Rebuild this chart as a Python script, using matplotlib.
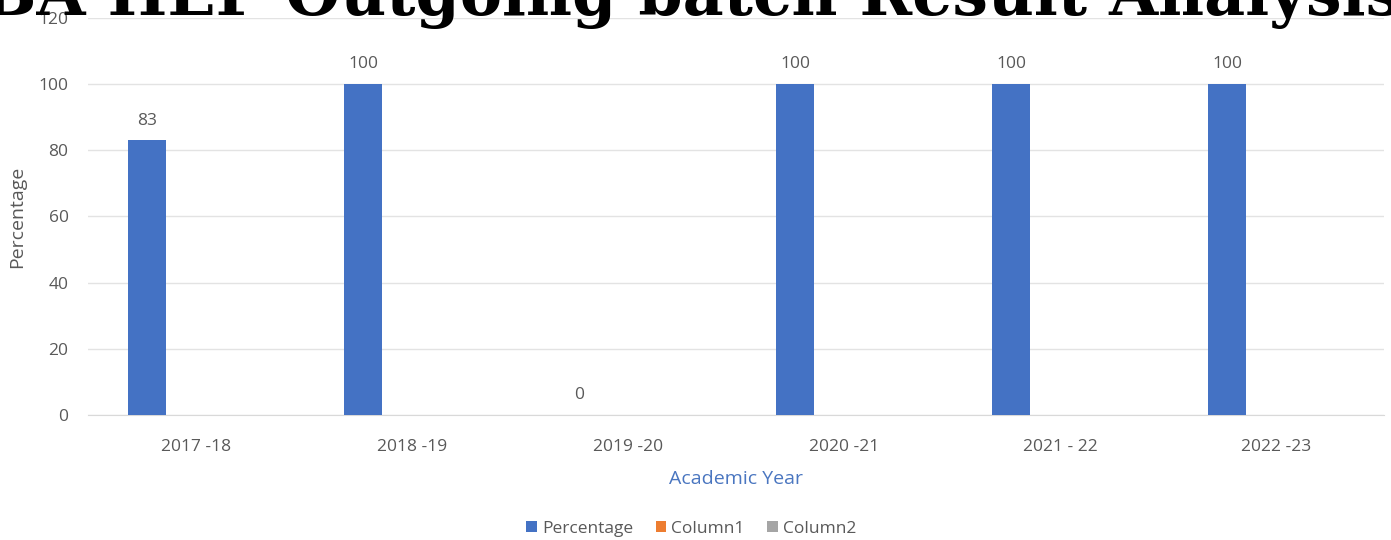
import numpy as np
import matplotlib
matplotlib.use('Agg')
import matplotlib.pyplot as plt

# data
years = ['2017 -18', '2018 -19', '2019 -20', '2020 -21', '2021 - 22', '2022 -23']
percentage = [83, 100, 0, 100, 100, 100]
column1 = [0, 0, 0, 0, 0, 0]
column2 = [0, 0, 0, 0, 0, 0]
yticks = [0, 20, 40, 60, 80, 100, 120]

plt.rcParams['font.family'] = ['Open Sans', 'DejaVu Sans']
gray = '#595959'

fig = plt.figure(figsize=(13.91, 5.40), dpi=100)
ax = fig.add_axes([0.0633, 0.2315, 0.9317, 0.7352])

x = np.arange(len(years))
w = 0.176
off = 0.227
bars = ax.bar(x - off, percentage, w, color='#4472C4', label='Percentage', zorder=3)
ax.bar(x, column1, w, color='#ED7D31', label='Column1', zorder=3, linewidth=0)
ax.bar(x + off, column2, w, color='#A5A5A5', label='Column2', zorder=3, linewidth=0)

for b, v in zip(bars, percentage):
    ax.text(b.get_x() + b.get_width() / 2, v + 6, str(v), ha='center', va='center',
            fontsize=12.5, color=gray)

ax.set_xlim(-0.5, len(years) - 0.5)
ax.set_ylim(0, 120)
ax.set_yticks(yticks)
ax.set_xticks(x)
ax.set_xticklabels(years)
ax.tick_params(axis='both', length=0, labelsize=12.5, labelcolor=gray)
ax.tick_params(axis='x', pad=17)
ax.tick_params(axis='y', pad=14)
ax.grid(axis='y', color='#e3e3e3', linewidth=1, zorder=0)
for s in ['top', 'right', 'left']:
    ax.spines[s].set_visible(False)
ax.spines['bottom'].set_color('#d9d9d9')

ax.set_ylabel('Percentage', fontsize=14, color=gray, labelpad=9)
ax.set_xlabel('Academic Year', fontsize=14, color='#4a76c0', labelpad=11)

fig.legend(loc='center', bbox_to_anchor=(0.497, 0.021), ncol=3, frameon=False,
           fontsize=12.5, labelcolor=gray, handlelength=0.6, handleheight=0.6,
           handletextpad=0.3, columnspacing=1.3)

fig.text(0.4975, 0.972, 'BA HEP Outgoing batch Result Analysis', ha='center',
         va='baseline', fontsize=45.5, fontweight='bold', family='DejaVu Serif',
         color='black', zorder=5)

fig.savefig('out.png', dpi=100)
